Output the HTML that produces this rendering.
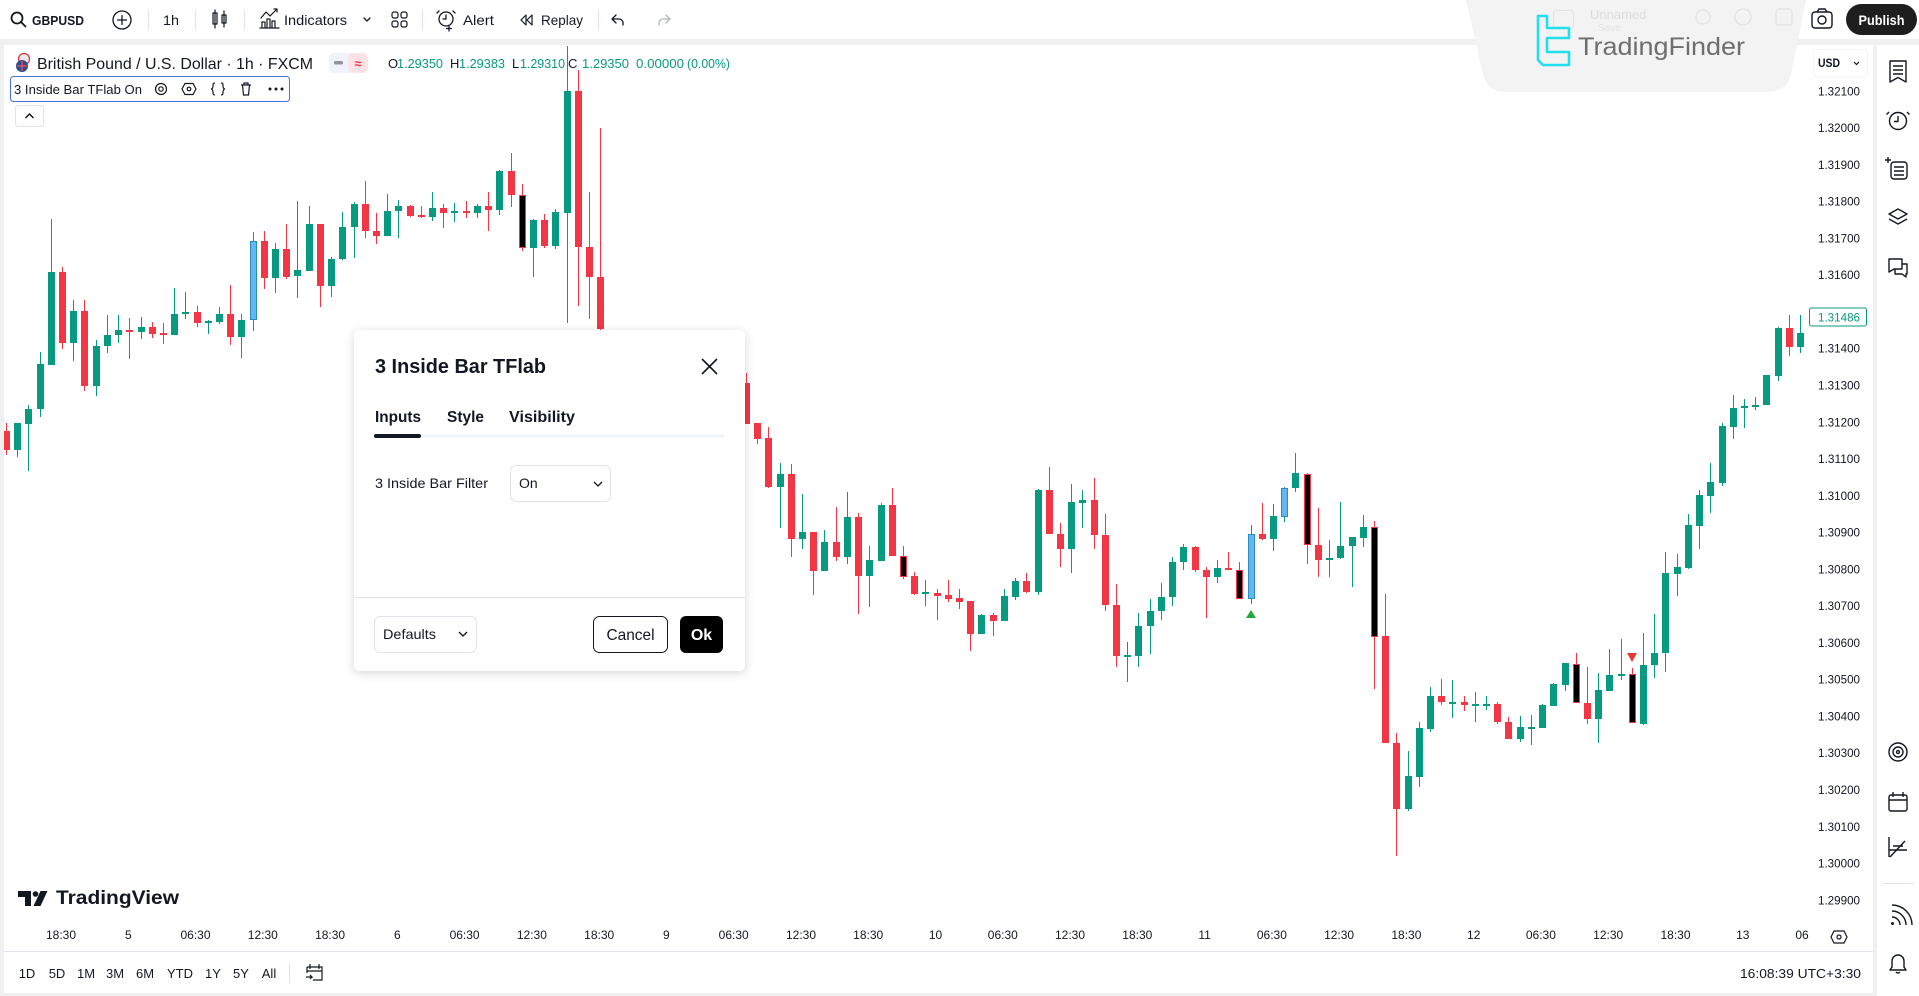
<!DOCTYPE html>
<html><head><meta charset="utf-8"><style>
html,body{margin:0;padding:0;background:#f0f0f0;width:1919px;height:996px;overflow:hidden}
svg{display:block;font-family:"Liberation Sans",Arial,sans-serif}
</style></head><body>
<svg width="1919" height="996" viewBox="0 0 1919 996" xmlns="http://www.w3.org/2000/svg">
<defs>
<filter id="sh" x="-10%" y="-10%" width="120%" height="125%"><feDropShadow dx="0" dy="2" stdDeviation="5" flood-color="#000" flood-opacity="0.16"/></filter>
<clipPath id="cp"><rect x="4" y="45" width="1806" height="905"/></clipPath>
</defs>
<rect width="1919" height="996" fill="#f0f0f0"/>
<!-- toolbar -->
<rect x="0" y="0" width="1919" height="39" fill="#fff"/>
<!-- panels -->
<rect x="4" y="45" width="1869" height="948" fill="#fff"/>
<rect x="1877" y="45" width="42" height="951" fill="#fff"/>
<line x1="4" y1="951.5" x2="1873" y2="951.5" stroke="#e0e3eb"/>

<!-- candles -->
<g clip-path="url(#cp)">
<path fill="none" stroke="#089981" stroke-width="1" d="M17.5 423V457M28.5 405V471M40.5 352V417M51.5 219V365M73.5 300V361M96.5 340V396M107.5 315V353M118.5 315V343M141.5 317V339M174.5 288V335M185.5 292V319M208.5 320V334M219.5 307V324M241.5 314V358M275.5 243V293M297.5 201V298M309.5 206V271M331.5 257V297M342.5 212V260M354.5 202V258M387.5 194V236M398.5 200V238M432.5 192V221M454.5 203V222M477.5 204V218M499.5 170V215M533.5 219V277M555.5 209V249M567.5 46V323M780.5 463V528M802.5 494V549M824.5 530V571M847.5 492V564M869.5 546V607M881.5 503V561M925.5 580V606M981.5 614V634M1004.5 589V621M1015.5 578V600M1038.5 489V595M1071.5 484V573M1082.5 490V528M1127.5 642V682M1138.5 613V667M1150.5 599V654M1161.5 583V620M1172.5 557V606M1183.5 544V570M1217.5 560V583M1273.5 504V551M1295.5 453V492M1329.5 540V577M1340.5 502V559M1352.5 537V587M1363.5 515V547M1408.5 751V811M1419.5 722V787M1430.5 687V732M1452.5 680V718M1475.5 692V722M1486.5 696V710M1520.5 716V742M1531.5 715V745M1542.5 704V728M1553.5 683V706M1565.5 663V691M1598.5 673V743M1609.5 649V691M1621.5 639V680M1643.5 633V725M1654.5 614V678M1665.5 552V672M1677.5 554V596M1688.5 514V569M1699.5 490V549M1710.5 463V513M1722.5 423V486M1733.5 395V439M1744.5 399V428M1755.5 397V410M1766.5 375V405M1778.5 327V381M1800.5 315V353M253.5 232V331M1251.5 525V604M1284.5 487V522"/>
<path fill="#089981" d="M14 423h7V450h-7zM25 409h7V424h-7zM37 364h7V409h-7zM48 272h7V365h-7zM70 311h7V343h-7zM93 346h7V386h-7zM104 335h7V346h-7zM115 330h7V335h-7zM138 327h7V332h-7zM171 314h7V335h-7zM182 312h7V314h-7zM205 321h7V323h-7zM216 314h7V322h-7zM238 320h7V337h-7zM272 249h7V278h-7zM294 270h7V276h-7zM306 224h7V271h-7zM328 259h7V286h-7zM339 227h7V259h-7zM351 204h7V227h-7zM384 211h7V236h-7zM395 206h7V211h-7zM429 208h7V217h-7zM451 211h7V213h-7zM474 206h7V213h-7zM496 171h7V210h-7zM530 220h7V248h-7zM552 212h7V246h-7zM564 91h7V213h-7zM777 474h7V487h-7zM799 532h7V539h-7zM821 542h7V571h-7zM844 517h7V557h-7zM866 560h7V576h-7zM878 505h7V561h-7zM922 592h7V594h-7zM978 615h7V634h-7zM1001 596h7V621h-7zM1012 581h7V597h-7zM1035 490h7V592h-7zM1068 502h7V549h-7zM1079 500h7V503h-7zM1124 655h7V657h-7zM1135 626h7V656h-7zM1147 611h7V626h-7zM1158 597h7V611h-7zM1169 562h7V597h-7zM1180 547h7V562h-7zM1214 568h7V577h-7zM1270 516h7V539h-7zM1292 473h7V488h-7zM1326 558h7V560h-7zM1337 546h7V558h-7zM1349 537h7V546h-7zM1360 527h7V538h-7zM1405 776h7V809h-7zM1416 728h7V777h-7zM1427 696h7V729h-7zM1449 702h7V704h-7zM1472 704h7V706h-7zM1483 704h7V706h-7zM1517 727h7V739h-7zM1528 727h7V729h-7zM1539 705h7V728h-7zM1550 684h7V706h-7zM1562 663h7V685h-7zM1595 690h7V719h-7zM1606 675h7V691h-7zM1618 674h7V676h-7zM1640 665h7V724h-7zM1651 653h7V665h-7zM1662 573h7V653h-7zM1674 567h7V574h-7zM1685 525h7V568h-7zM1696 495h7V526h-7zM1707 482h7V496h-7zM1719 426h7V483h-7zM1730 408h7V427h-7zM1741 406h7V408h-7zM1752 405h7V407h-7zM1763 375h7V405h-7zM1775 328h7V376h-7zM1797 333h7V347h-7z"/>
<path fill="none" stroke="#f23645" stroke-width="1" d="M6.5 423V455M62.5 267V349M84.5 300V391M129.5 318V359M152.5 322V338M163.5 323V344M197.5 306V327M230.5 285V345M264.5 231V289M286.5 224V279M320.5 224V307M365.5 181V238M376.5 213V244M410.5 205V217M421.5 206V218M443.5 204V228M466.5 201V218M488.5 192V231M511.5 153V207M544.5 214V248M578.5 70V306M589.5 192V319M600.5 128V330M746.5 373V424M757.5 423V444M768.5 427V488M791.5 464V557M813.5 532V595M836.5 507V561M858.5 513V614M892.5 488V556M914.5 572V595M937.5 589V620M948.5 580V602M959.5 589V609M970.5 601V651M993.5 613V636M1026.5 573V593M1049.5 467V534M1060.5 523V567M1094.5 478V549M1105.5 514V611M1116.5 584V667M1195.5 546V572M1206.5 567V618M1228.5 552V570M1262.5 503V540M1318.5 508V577M1385.5 594V743M1396.5 733V856M1441.5 679V705M1464.5 696V711M1497.5 702V724M1508.5 717V739M1587.5 667V724M1789.5 315V356M522.5 184V251M903.5 546V579M1239.5 562V599M1307.5 473V564M1374.5 521V689M1576.5 653V703M1632.5 668V723"/>
<path fill="#f23645" d="M3 431h7V450h-7zM59 272h7V343h-7zM81 311h7V386h-7zM126 330h7V332h-7zM149 327h7V334h-7zM160 333h7V335h-7zM194 312h7V323h-7zM227 314h7V337h-7zM261 241h7V278h-7zM283 249h7V277h-7zM317 224h7V286h-7zM362 204h7V231h-7zM373 231h7V236h-7zM407 206h7V216h-7zM418 215h7V217h-7zM440 208h7V213h-7zM463 211h7V213h-7zM485 206h7V210h-7zM508 171h7V195h-7zM541 220h7V246h-7zM575 91h7V247h-7zM586 247h7V277h-7zM597 277h7V329h-7zM743 383h7V424h-7zM754 423h7V439h-7zM765 438h7V487h-7zM788 474h7V539h-7zM810 532h7V571h-7zM833 542h7V557h-7zM855 517h7V576h-7zM889 505h7V556h-7zM911 576h7V594h-7zM934 593h7V596h-7zM945 595h7V599h-7zM956 598h7V602h-7zM967 601h7V634h-7zM990 615h7V621h-7zM1023 581h7V592h-7zM1046 490h7V534h-7zM1057 534h7V549h-7zM1091 500h7V535h-7zM1102 535h7V605h-7zM1113 605h7V656h-7zM1192 547h7V570h-7zM1203 570h7V577h-7zM1225 568h7V570h-7zM1259 534h7V539h-7zM1315 545h7V560h-7zM1382 636h7V743h-7zM1393 743h7V809h-7zM1438 696h7V702h-7zM1461 702h7V705h-7zM1494 704h7V722h-7zM1505 722h7V739h-7zM1584 703h7V719h-7zM1786 328h7V347h-7z"/>
<g fill="#000" stroke="#f23645" stroke-width="1">
<rect x="519.5" y="195.5" width="6" height="52"/>
<rect x="900.5" y="556.5" width="6" height="20"/>
<rect x="1236.5" y="570.5" width="6" height="28"/>
<rect x="1304.5" y="474.5" width="6" height="70"/>
<rect x="1371.5" y="527.5" width="6" height="109"/>
<rect x="1573.5" y="664.5" width="6" height="38"/>
<rect x="1629.5" y="674.5" width="6" height="48"/>
</g>
<g fill="#64b5f6" stroke="#2a8fb8" stroke-width="1">
<rect x="250.5" y="241.5" width="6" height="78"/>
<rect x="1248.5" y="534.5" width="6" height="64"/>
<rect x="1281.5" y="488.5" width="6" height="28"/>
</g>
<polygon points="1246,618 1256,618 1251,610" fill="#22ab3c"/>
<polygon points="1627,653 1637,653 1632,662" fill="#e53935"/>
</g>

<!-- toolbar content -->
<g fill="none" stroke="#131722" stroke-width="1.5" stroke-linecap="round" stroke-linejoin="round">
<circle cx="17" cy="18" r="5.5" stroke-width="1.8"/><path d="M21 22l4.5 4.5" stroke-width="1.8"/>
<circle cx="122" cy="20" r="9" stroke-width="1.3"/><path d="M122 15.5v9M117.5 20h9" stroke-width="1.3"/>
<path d="M215 10v18M213 13h4v11h-4zM224 11v16M222 15h4v8h-4z" stroke-width="1.2"/>
<path d="M260 28h19M262 27v-5h3v5M267 27v-8h3v8M272 27v-6h3v6M261 18l5-6 4 4 7-7M274 9h3v3" stroke-width="1.2"/>
<path d="M364 18l3 3 3-3" stroke-width="1.3"/>
<rect x="392" y="12" width="6" height="6" rx="2" stroke-width="1.2"/><rect x="401" y="12" width="6" height="6" rx="2" stroke-width="1.2"/><rect x="392" y="21" width="6" height="6" rx="2" stroke-width="1.2"/><rect x="401" y="21" width="6" height="6" rx="2" stroke-width="1.2"/>
<circle cx="446" cy="19" r="7" stroke-width="1.3"/><path d="M446 15v4h-3M439 11l-2 2M453 11l2 2M449 26v5M446.5 28.5h5" stroke-width="1.3"/>
<path d="M521 20l5-5v10zM527 20l5-5v10z" stroke-width="1.2"/>
<path d="M616 15l-4 4 4 4M612 19h7a4 4 0 0 1 4 4v2" stroke-width="1.3"/>
<path d="M666 15l4 4-4 4M670 19h-7a4 4 0 0 0-4 4v2" stroke="#b2b5be" stroke-width="1.3"/>
</g>
<g stroke="#e0e3eb" stroke-width="1">
<line x1="148.5" y1="10" x2="148.5" y2="30"/><line x1="195.5" y1="10" x2="195.5" y2="30"/><line x1="244.5" y1="10" x2="244.5" y2="30"/><line x1="422.5" y1="10" x2="422.5" y2="30"/><line x1="598.5" y1="10" x2="598.5" y2="30"/>
</g>
<g fill="#131722" font-size="14">
<text x="32" y="25" font-weight="bold" font-size="13" textLength="52" lengthAdjust="spacingAndGlyphs">GBPUSD</text>
<text x="163" y="25" textLength="16" lengthAdjust="spacingAndGlyphs">1h</text>
<text x="284" y="25" textLength="63" lengthAdjust="spacingAndGlyphs">Indicators</text>
<text x="463" y="25" textLength="31" lengthAdjust="spacingAndGlyphs">Alert</text>
<text x="541" y="25" textLength="42" lengthAdjust="spacingAndGlyphs">Replay</text>
</g>

<!-- legend -->
<circle cx="24" cy="59" r="5.5" fill="#e8eaf0" stroke="#d33" stroke-width="1.2"/>
<circle cx="22" cy="66" r="6" fill="#2c4a8a"/>
<path d="M17 66h10M22 61v10" stroke="#e05060" stroke-width="1.5"/>
<text x="37" y="69" font-size="16" fill="#131722" textLength="276" lengthAdjust="spacingAndGlyphs">British Pound / U.S. Dollar · 1h · FXCM</text>
<rect x="329" y="53" width="39" height="20" rx="5" fill="#f0f3fa"/>
<rect x="348" y="53" width="20" height="20" rx="5" fill="#fde2e6"/>
<rect x="334" y="61" width="9" height="3.5" rx="1.5" fill="#8f939e"/>
<text x="358" y="68" font-size="13" fill="#f23645" text-anchor="middle" font-weight="bold">≈</text>
<g font-size="13">
<text x="388" y="68" fill="#131722">O</text><text x="397" y="68" fill="#089981" textLength="46" lengthAdjust="spacingAndGlyphs">1.29350</text>
<text x="450" y="68" fill="#131722">H</text><text x="459" y="68" fill="#089981" textLength="46" lengthAdjust="spacingAndGlyphs">1.29383</text>
<text x="512" y="68" fill="#131722">L</text><text x="520" y="68" fill="#089981" textLength="45" lengthAdjust="spacingAndGlyphs">1.29310</text>
<text x="568" y="68" fill="#131722">C</text><text x="582" y="68" fill="#089981" textLength="47" lengthAdjust="spacingAndGlyphs">1.29350</text>
<text x="636" y="68" fill="#089981" textLength="48" lengthAdjust="spacingAndGlyphs">0.00000</text>
<text x="687" y="68" fill="#089981" textLength="43" lengthAdjust="spacingAndGlyphs">(0.00%)</text>
</g>
<rect x="10.5" y="76.5" width="279" height="25" rx="3" fill="#fff" stroke="#4a6fd8" stroke-width="1"/>
<text x="14" y="94" font-size="13" fill="#131722" textLength="128" lengthAdjust="spacingAndGlyphs">3 Inside Bar TFlab On</text>
<g fill="none" stroke="#131722" stroke-width="1.2">
<circle cx="161" cy="89" r="5.5"/><circle cx="161" cy="89" r="2.2"/>
<path d="M185 83.5h8l3 5.5-3 5.5h-8l-3-5.5z"/><circle cx="189" cy="89" r="1.8"/>
<path d="M215 83c-2 0-2 1-2 3s-1 3-2 3c1 0 2 1 2 3s0 3 2 3M221 83c2 0 2 1 2 3s1 3 2 3c-1 0-2 1-2 3s0 3-2 3"/>
<path d="M241 85h10M244 85v-2h4v2M242.5 85l1 10h5l1-10"/>
</g>
<g fill="#131722"><circle cx="270" cy="89" r="1.5"/><circle cx="276" cy="89" r="1.5"/><circle cx="282" cy="89" r="1.5"/></g>
<rect x="15.5" y="105.5" width="28" height="21" rx="3" fill="#fff" stroke="#e0e3eb"/>
<path d="M25.5 118l4-4 4 4" fill="none" stroke="#131722" stroke-width="1.5"/>

<!-- price axis -->
<g font-size="12" fill="#131722">
<text x="1818" y="95.3" textLength="42" lengthAdjust="spacingAndGlyphs">1.32100</text>
<text x="1818" y="132.1" textLength="42" lengthAdjust="spacingAndGlyphs">1.32000</text>
<text x="1818" y="168.8" textLength="42" lengthAdjust="spacingAndGlyphs">1.31900</text>
<text x="1818" y="205.6" textLength="42" lengthAdjust="spacingAndGlyphs">1.31800</text>
<text x="1818" y="242.4" textLength="42" lengthAdjust="spacingAndGlyphs">1.31700</text>
<text x="1818" y="279.2" textLength="42" lengthAdjust="spacingAndGlyphs">1.31600</text>
<text x="1818" y="315.9" textLength="42" lengthAdjust="spacingAndGlyphs">1.31500</text>
<text x="1818" y="352.7" textLength="42" lengthAdjust="spacingAndGlyphs">1.31400</text>
<text x="1818" y="389.5" textLength="42" lengthAdjust="spacingAndGlyphs">1.31300</text>
<text x="1818" y="426.3" textLength="42" lengthAdjust="spacingAndGlyphs">1.31200</text>
<text x="1818" y="463" textLength="42" lengthAdjust="spacingAndGlyphs">1.31100</text>
<text x="1818" y="499.8" textLength="42" lengthAdjust="spacingAndGlyphs">1.31000</text>
<text x="1818" y="536.6" textLength="42" lengthAdjust="spacingAndGlyphs">1.30900</text>
<text x="1818" y="573.3" textLength="42" lengthAdjust="spacingAndGlyphs">1.30800</text>
<text x="1818" y="610.1" textLength="42" lengthAdjust="spacingAndGlyphs">1.30700</text>
<text x="1818" y="646.9" textLength="42" lengthAdjust="spacingAndGlyphs">1.30600</text>
<text x="1818" y="683.7" textLength="42" lengthAdjust="spacingAndGlyphs">1.30500</text>
<text x="1818" y="720.4" textLength="42" lengthAdjust="spacingAndGlyphs">1.30400</text>
<text x="1818" y="757.2" textLength="42" lengthAdjust="spacingAndGlyphs">1.30300</text>
<text x="1818" y="794" textLength="42" lengthAdjust="spacingAndGlyphs">1.30200</text>
<text x="1818" y="830.8" textLength="42" lengthAdjust="spacingAndGlyphs">1.30100</text>
<text x="1818" y="867.5" textLength="42" lengthAdjust="spacingAndGlyphs">1.30000</text>
<text x="1818" y="904.3" textLength="42" lengthAdjust="spacingAndGlyphs">1.29900</text>
</g>
<rect x="1809.5" y="308" width="57" height="18" rx="2" fill="#fff" stroke="#089981"/>
<text x="1818" y="321.5" font-size="12" fill="#089981" textLength="42" lengthAdjust="spacingAndGlyphs">1.31486</text>
<rect x="1813.5" y="49.5" width="54" height="27" rx="4" fill="#fff" stroke="#f0f3fa"/>
<text x="1818" y="67" font-size="12" fill="#131722" font-weight="bold" textLength="22" lengthAdjust="spacingAndGlyphs">USD</text>
<path d="M1854 62l2.5 2.5 2.5-2.5" fill="none" stroke="#131722" stroke-width="1.2"/>

<!-- time axis -->
<g font-size="12" fill="#131722" text-anchor="middle">
<text x="61" y="939">18:30</text><text x="128.3" y="939">5</text><text x="195.5" y="939">06:30</text><text x="262.8" y="939">12:30</text><text x="330.1" y="939">18:30</text><text x="397.4" y="939">6</text><text x="464.6" y="939">06:30</text><text x="531.9" y="939">12:30</text><text x="599.2" y="939">18:30</text><text x="666.4" y="939">9</text><text x="733.7" y="939">06:30</text><text x="801" y="939">12:30</text><text x="868.2" y="939">18:30</text><text x="935.5" y="939">10</text><text x="1002.8" y="939">06:30</text><text x="1070" y="939">12:30</text><text x="1137.3" y="939">18:30</text><text x="1204.6" y="939">11</text><text x="1271.9" y="939">06:30</text><text x="1339.1" y="939">12:30</text><text x="1406.4" y="939">18:30</text><text x="1473.7" y="939">12</text><text x="1540.9" y="939">06:30</text><text x="1608.2" y="939">12:30</text><text x="1675.5" y="939">18:30</text><text x="1742.8" y="939">13</text><text x="1802" y="939">06</text>
</g>
<path d="M1834 931h10l3 6-3 6h-10l-3-6z" fill="none" stroke="#131722" stroke-width="1.2"/><circle cx="1839" cy="937" r="2" fill="none" stroke="#131722" stroke-width="1.2"/>

<!-- TradingView logo -->
<path d="M18 891h13v15h-6v-9h-7z" fill="#131722"/>
<circle cx="35.5" cy="894" r="2.8" fill="#131722"/>
<path d="M40.5 891h7l-7 15h-7z" fill="#131722"/>
<text x="56" y="904" font-size="19" font-weight="bold" fill="#131722" textLength="123" lengthAdjust="spacingAndGlyphs">TradingView</text>

<!-- bottom bar -->
<g font-size="13" fill="#131722" text-anchor="middle">
<text x="27" y="978">1D</text><text x="57" y="978">5D</text><text x="86" y="978">1M</text><text x="115" y="978">3M</text><text x="145" y="978">6M</text><text x="180" y="978">YTD</text><text x="213" y="978">1Y</text><text x="241" y="978">5Y</text><text x="269" y="978">All</text>
</g>
<line x1="289.5" y1="963" x2="289.5" y2="983" stroke="#e0e3eb"/>
<path d="M307 967h15v13h-9M307 967v6M307 971h15M310 964v5M319 964v5M306 977h6l-2-2M312 977l-2 2" fill="none" stroke="#131722" stroke-width="1.2"/>
<text x="1861" y="978" font-size="13" fill="#131722" text-anchor="end" textLength="121" lengthAdjust="spacingAndGlyphs">16:08:39 UTC+3:30</text>

<!-- right sidebar icons -->
<g fill="none" stroke="#131722" stroke-width="1.4" stroke-linejoin="round">
<path d="M1890 61h16v21l-8-4.5-8 4.5z"/><path d="M1893 66h10M1893 70h10M1893 74h10"/>
<circle cx="1898" cy="121" r="8.5"/><path d="M1898 116v5.5h-4M1889 112l-2.5 2.5M1907 112l2.5 2.5"/>
<rect x="1891" y="162" width="16" height="17" rx="3"/><path d="M1894 167h10M1894 171h10M1894 175h10M1888 157v6M1885 160h6"/>
<path d="M1889 214l9-5 9 5-9 5z"/><path d="M1889 219l9 5 9-5"/>
<path d="M1889 259h13v10h-8l-5 3v-3z"/><path d="M1902 264h5v10h-1v3l-4-3h-7v-5"/>
<circle cx="1898" cy="752" r="9"/><circle cx="1898" cy="752" r="5"/><circle cx="1898" cy="752" r="1.5"/>
<rect x="1889" y="795" width="18" height="16" rx="2"/><path d="M1889 800h18M1893 792v5M1903 792v5"/>
<path d="M1889 837v20M1889 850h18M1890 857l15-16M1893 846h10"/>
<path d="M1892 917a8 8 0 0 1 8 8M1892 911a14 14 0 0 1 14 14M1892 905a20 20 0 0 1 20 20"/>
<path d="M1892 967v-6a6 6 0 0 1 12 0v6l2 3h-16zM1896 972a2.5 2.5 0 0 0 4 0"/>
</g>
<circle cx="1892.5" cy="923.5" r="1.5" fill="#131722"/>
<line x1="1882" y1="883.5" x2="1914" y2="883.5" stroke="#e0e3eb"/>

<!-- top right -->
<path d="M1466 0H1806L1791 74Q1787 92 1767 92H1505Q1487 92 1483 74Z" fill="#f3f3f3"/>
<rect x="1553.5" y="10.5" width="20" height="18" rx="3" fill="none" stroke="#e3e3e3"/>
<text x="1590" y="19" font-size="13" fill="#dcdcdc">Unnamed</text>
<text x="1598" y="31" font-size="10" fill="#e2e2e2">Save</text>
<g fill="none" stroke="#e2e2e2" stroke-width="1.3"><circle cx="1703" cy="17" r="7"/><circle cx="1743" cy="17" r="8"/><rect x="1776" y="9" width="16" height="16" rx="3"/></g>
<path d="M1538 16h9v12h22v10h-22v14h22v13h-26l-5-5z" fill="none" stroke="#22dfee" stroke-width="2.6" stroke-linejoin="round"/>
<text x="1578" y="55" font-size="25" fill="#6e6e6e" textLength="167" lengthAdjust="spacingAndGlyphs">TradingFinder</text>
<rect x="1812" y="12" width="20" height="16" rx="3" fill="none" stroke="#131722" stroke-width="1.4"/>
<path d="M1817 12l2-3h6l2 3" fill="none" stroke="#131722" stroke-width="1.4"/>
<circle cx="1822" cy="20" r="4" fill="none" stroke="#131722" stroke-width="1.4"/>
<rect x="1846" y="4" width="71" height="31" rx="15.5" fill="#1e1e1e"/>
<text x="1881.5" y="25" font-size="14" font-weight="bold" fill="#fff" text-anchor="middle" textLength="46" lengthAdjust="spacingAndGlyphs">Publish</text>

<!-- dialog -->
<rect x="354" y="330" width="391" height="341" rx="6" fill="#fff" filter="url(#sh)"/>
<text x="375" y="373" font-size="20" font-weight="bold" fill="#131722" textLength="171" lengthAdjust="spacingAndGlyphs">3 Inside Bar TFlab</text>
<path d="M702 359l15 15M717 359l-15 15" stroke="#131722" stroke-width="1.6"/>
<g font-size="16" font-weight="bold" fill="#131722">
<text x="375" y="422" textLength="46" lengthAdjust="spacingAndGlyphs">Inputs</text>
<text x="447" y="422" textLength="37" lengthAdjust="spacingAndGlyphs">Style</text>
<text x="509" y="422" textLength="66" lengthAdjust="spacingAndGlyphs">Visibility</text>
</g>
<rect x="374" y="434.5" width="350" height="3" rx="1.5" fill="#f0f3fa"/>
<rect x="374" y="434" width="47" height="4" rx="2" fill="#131722"/>
<text x="375" y="488" font-size="14" fill="#131722" textLength="113" lengthAdjust="spacingAndGlyphs">3 Inside Bar Filter</text>
<rect x="510.5" y="465.5" width="100" height="36" rx="6" fill="#fff" stroke="#e0e3eb"/>
<text x="519" y="488" font-size="14" fill="#131722">On</text>
<path d="M594 482l4 4 4-4" fill="none" stroke="#131722" stroke-width="1.3"/>
<line x1="354" y1="597.5" x2="745" y2="597.5" stroke="#e0e3eb"/>
<rect x="374.5" y="616.5" width="102" height="36" rx="6" fill="#fff" stroke="#e0e3eb"/>
<text x="383" y="639" font-size="14" fill="#131722" textLength="53" lengthAdjust="spacingAndGlyphs">Defaults</text>
<path d="M459 632l4 4 4-4" fill="none" stroke="#131722" stroke-width="1.3"/>
<rect x="593.5" y="616.5" width="74" height="36" rx="6" fill="#fff" stroke="#131722"/>
<text x="630.5" y="640" font-size="16" fill="#131722" text-anchor="middle" textLength="48" lengthAdjust="spacingAndGlyphs">Cancel</text>
<rect x="680" y="616" width="43" height="37" rx="6" fill="#000"/>
<text x="701.5" y="640" font-size="16" font-weight="bold" fill="#fff" text-anchor="middle">Ok</text>
</svg>
</body></html>
